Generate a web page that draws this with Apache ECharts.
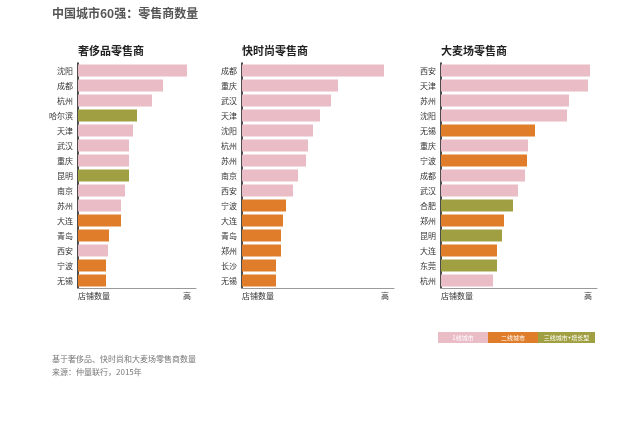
<!DOCTYPE html>
<html><head><meta charset="utf-8">
<script src="https://cdn.jsdelivr.net/npm/echarts@6/dist/echarts.min.js"></script>
<style>html,body{margin:0;padding:0;background:#fff}#c{width:640px;height:422px}</style>
</head><body><div id="c"></div>
<script>
// Panel 1: 奢侈品零售商
const luxCities = ['沈阳','成都','杭州','哈尔滨','天津','武汉','重庆','昆明','南京','苏州','大连','青岛','西安','宁波','无锡'];
const luxValues = [109,85,74,59,55,51,51,51,47,43,43,31,30,28,28];
const luxTiers  = [1,1,1,3,1,1,1,3,1,1,2,2,1,2,2];
// Panel 2: 快时尚零售商
const fastCities = ['成都','重庆','武汉','天津','沈阳','杭州','苏州','南京','西安','宁波','大连','青岛','郑州','长沙','无锡'];
const fastValues = [142,96,89,78,71,66,64,56,51,44,41,39,39,34,34];
const fastTiers  = [1,1,1,1,1,1,1,1,1,2,2,2,2,2,2];
// Panel 3: 大麦场零售商
const massCities = ['西安','天津','苏州','沈阳','无锡','重庆','宁波','成都','武汉','合肥','郑州','昆明','大连','东莞','杭州'];
const massValues = [149,147,128,126,94,87,86,84,77,72,63,61,56,56,52];
const massTiers  = [1,1,1,1,2,1,2,1,1,3,2,3,2,3,1];

const panelTitles = ['奢侈品零售商','快时尚零售商','大麦场零售商'];
const legendLabels = ['1线城市','二线城市','三线城市+增长型'];
const axisStart = '店铺数量';
const axisEnd = '高';
const mainTitle = '中国城市60强：零售商数量';
const notes = ['基于奢侈品、快时尚和大麦场零售商数量','来源：仲量联行，2015年'];

const tierColors = {1:'#E9BCC6', 2:'#E07D2A', 3:'#A0A043'};
const FONT = '"Noto Sans CJK SC", sans-serif';

const panels = [
  {cities: luxCities, values: luxValues, tiers: luxTiers, left: 78, width: 118, max: 118},
  {cities: fastCities, values: fastValues, tiers: fastTiers, left: 242, width: 152, max: 152},
  {cities: massCities, values: massValues, tiers: massTiers, left: 441, width: 156, max: 156}
];

const grid = [], xAxis = [], yAxis = [], series = [], graphic = [];
panels.forEach((p, i) => {
  grid.push({left: p.left, width: p.width, top: 63, height: 225, containLabel: false});
  xAxis.push({type: 'value', gridIndex: i, min: 0, max: p.max,
    axisLine: {show: true, lineStyle: {color: '#9a9a9a', width: 1}},
    axisTick: {show: false}, axisLabel: {show: false}, splitLine: {show: false}});
  yAxis.push({type: 'category', gridIndex: i, data: p.cities, inverse: true,
    axisLine: {show: true, lineStyle: {color: '#111', width: 1.5}},
    axisTick: {show: false},
    axisLabel: {color: '#333', fontSize: 8, margin: 5, fontFamily: FONT}});
  series.push({type: 'bar', xAxisIndex: i, yAxisIndex: i, barWidth: 12, silent: true,
    data: p.values.map((v, k) => ({value: v, itemStyle: {color: tierColors[p.tiers[k]]}}))});
  graphic.push({type: 'text', left: p.left, top: 45, style: {text: panelTitles[i], fill: '#222', font: 'bold 11px ' + FONT}});
  graphic.push({type: 'text', left: p.left, top: 292, style: {text: axisStart, fill: '#333', font: '8px ' + FONT}});
  graphic.push({type: 'text', left: p.left + p.width - 13, top: 292, style: {text: axisEnd, fill: '#333', font: '8px ' + FONT}});
});

graphic.push({type: 'text', left: 52, top: 7, style: {text: mainTitle, fill: '#555', font: 'bold 12px ' + FONT}});
const legX = [438, 488, 538], legW = [50, 50, 57];
legendLabels.forEach((t, i) => {
  graphic.push({type: 'rect', shape: {x: legX[i], y: 332, width: legW[i], height: 11}, style: {fill: tierColors[i + 1]}});
  graphic.push({type: 'text', x: legX[i] + legW[i] / 2, y: 337.5, style: {text: t, fill: '#fff', font: '6px ' + FONT, align: 'center', verticalAlign: 'middle'}});
});
notes.forEach((t, i) => {
  graphic.push({type: 'text', left: 52, top: 355 + i * 13, style: {text: t, fill: '#777', font: '8px ' + FONT}});
});

const chart = echarts.init(document.getElementById('c'), null, {renderer: 'canvas'});
chart.setOption({animation: false, backgroundColor: '#fff', grid, xAxis, yAxis, series, graphic});
</script></body></html>
